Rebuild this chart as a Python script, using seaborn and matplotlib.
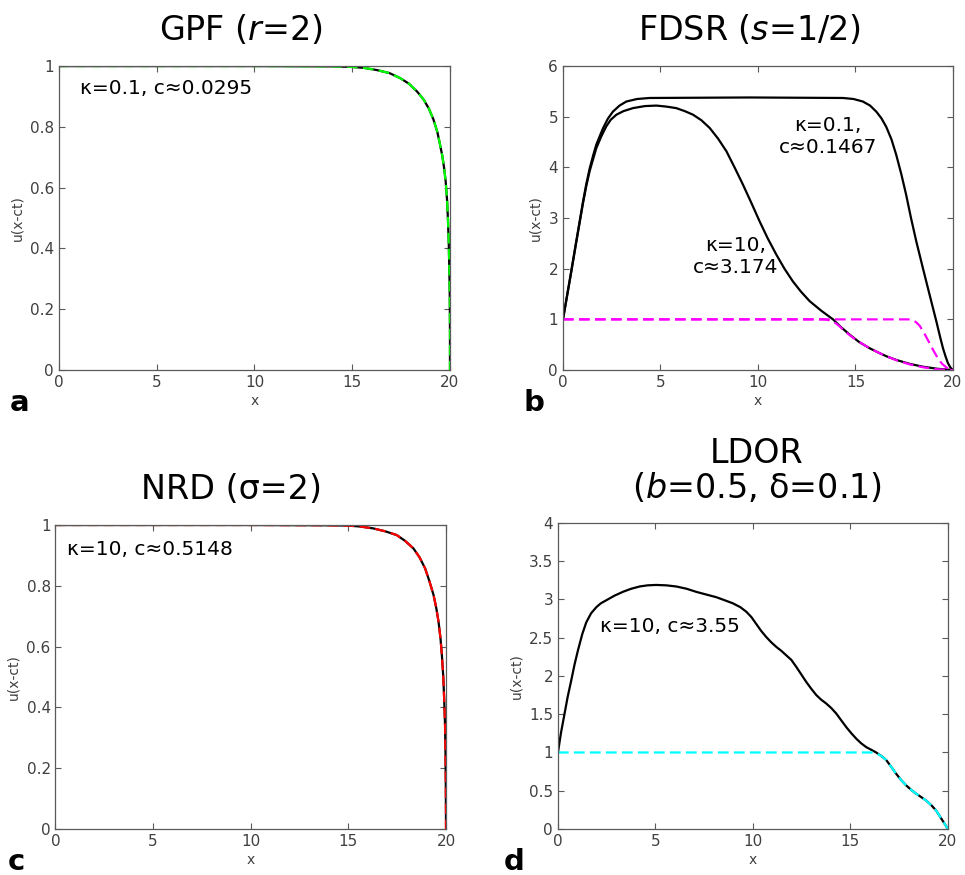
import matplotlib
matplotlib.use("Agg")
import matplotlib.pyplot as plt
from matplotlib import ticker
import seaborn as sns

# (a) GPF, r=2, kappa=0.1
gpf_x = [0, 5, 10, 14, 15, 15.6, 16.25, 16.9, 17.46, 17.9, 18.32, 18.65, 18.92, 19.15, 19.35,
         19.48, 19.6, 19.7, 19.78, 19.85, 19.9, 19.94, 19.97, 19.99, 20.0, 20.0]
gpf_u = [1, 1, 1, 0.999, 0.997, 0.994, 0.987, 0.977, 0.96, 0.942, 0.916, 0.89, 0.86, 0.825, 0.784,
         0.745, 0.707, 0.665, 0.62, 0.56, 0.49, 0.41, 0.32, 0.24, 0.12, 0]

# (b) FDSR, s=1/2
fdsr1_x = [0, 0.2, 0.4, 0.68, 1.03, 1.2, 1.37, 1.55, 1.71, 1.9, 2.05, 2.3, 2.56, 2.9, 3.25,
           3.8, 4.44, 9.57, 14.36, 14.9, 15.38, 15.75, 16.07, 16.33, 16.58, 16.85, 17.09,
           17.35, 17.6, 17.85, 18.12, 18.46, 18.8, 19.15, 19.35, 19.49, 19.62, 19.74, 19.87, 20]
fdsr1_u = [1, 1.45, 1.9, 2.54, 3.33, 3.68, 3.98, 4.24, 4.45, 4.63, 4.77, 4.96, 5.1, 5.22, 5.3,
           5.35, 5.37, 5.38, 5.37, 5.35, 5.3, 5.22, 5.1, 4.97, 4.8, 4.55, 4.25,
           3.87, 3.46, 3.0, 2.54, 2.01, 1.49, 0.96, 0.64, 0.43, 0.27, 0.14, 0.05, 0]
fdsr2_x = [0, 0.2, 0.4, 0.68, 1.03, 1.2, 1.37, 1.55, 1.71, 1.95, 2.22, 2.45, 2.74, 3.1, 3.59,
           4.2, 4.79, 5.3, 5.81, 6.25, 6.67, 7.1, 7.52, 7.95, 8.38, 8.8, 9.23, 9.66, 10.09,
           10.5, 10.94, 11.36, 11.79, 12.2, 12.65, 13.25, 13.85, 14.25, 14.7, 15.2, 15.73,
           16.2, 16.6, 17.09, 17.8, 18.46, 19.2, 20]
fdsr2_u = [1, 1.44, 1.88, 2.52, 3.3, 3.64, 3.93, 4.17, 4.38, 4.6, 4.81, 4.94, 5.04, 5.11, 5.17,
           5.21, 5.22, 5.2, 5.17, 5.11, 5.04, 4.93, 4.78, 4.57, 4.32, 4.0, 3.66, 3.3, 2.93,
           2.6, 2.28, 2.0, 1.75, 1.55, 1.36, 1.17, 1.0, 0.85, 0.70, 0.55, 0.43,
           0.34, 0.27, 0.20, 0.12, 0.066, 0.025, 0]
fdsr_cmp1_x = [0, 13.3, 13.5, 13.7, 13.85, 14.0, 14.2, 14.5, 14.87, 15.3, 15.73, 16.2, 16.6,
               17.09, 17.8, 18.46, 19.2, 20]
fdsr_cmp1_u = [1, 1, 0.995, 0.98, 0.955, 0.92, 0.86, 0.75, 0.64, 0.53, 0.43, 0.34, 0.27,
               0.195, 0.11, 0.055, 0.015, 0]
fdsr_cmp2_x = [0, 17.7, 17.85, 17.95, 18.05, 18.15, 18.3, 18.55, 18.8, 19.02, 19.23, 19.45,
               19.7, 20]
fdsr_cmp2_u = [1, 1, 0.995, 0.985, 0.96, 0.93, 0.87, 0.71, 0.53, 0.37, 0.23, 0.12, 0.04, 0]

# (c) NRD, sigma=2, kappa=10
nrd_x = [0, 5, 10, 14, 15, 15.6, 16.26, 16.9, 17.47, 17.9, 18.33, 18.65, 18.93, 19.15, 19.36,
         19.5, 19.62, 19.72, 19.79, 19.86, 19.91, 19.95, 19.97, 19.99, 20]
nrd_u = [1, 1, 1, 0.999, 0.998, 0.995, 0.989, 0.979, 0.967, 0.948, 0.923, 0.893, 0.857, 0.815,
         0.77, 0.727, 0.68, 0.625, 0.57, 0.5, 0.42, 0.34, 0.265, 0.13, 0]

# (d) LDOR, b=0.5, delta=0.1, kappa=10
ldor_x = [0, 0.15, 0.34, 0.5, 0.68, 0.85, 1.03, 1.25, 1.45, 1.7, 1.97, 2.2, 2.48, 2.9, 3.33,
          3.75, 4.19, 4.6, 5.04, 5.55, 6.07, 6.6, 7.09, 7.6, 8.12, 8.55, 8.97, 9.35, 9.66,
          9.92, 10.17, 10.42, 10.68, 10.94, 11.2, 11.45, 11.71, 11.97, 12.22, 12.48, 12.74,
          13.0, 13.25, 13.5, 13.76, 14.02, 14.27, 14.53, 14.79, 15.05, 15.3, 15.55, 15.81,
          16.07, 16.32, 16.58, 16.84, 17.1, 17.35, 17.6, 17.86, 18.12, 18.38, 18.64, 18.89,
          19.15, 19.4, 19.7, 20]
ldor_u = [1, 1.25, 1.51, 1.73, 1.94, 2.15, 2.34, 2.55, 2.7, 2.82, 2.9, 2.95, 2.99, 3.05, 3.1,
          3.14, 3.17, 3.185, 3.19, 3.185, 3.17, 3.14, 3.1, 3.065, 3.03, 2.99, 2.95, 2.9, 2.84,
          2.77, 2.68, 2.59, 2.51, 2.44, 2.38, 2.33, 2.27, 2.21, 2.12, 2.02, 1.92,
          1.83, 1.75, 1.69, 1.64, 1.58, 1.51, 1.42, 1.33, 1.25, 1.18, 1.12, 1.07,
          1.035, 1.0, 0.955, 0.9, 0.81, 0.72, 0.64, 0.57, 0.51, 0.46, 0.415, 0.37,
          0.31, 0.24, 0.12, 0]
ldor_cmp_x = [0, 16.1, 16.32, 16.58, 16.84, 17.1, 17.35, 17.6, 17.86, 18.12, 18.38, 18.64,
              18.89, 19.15, 19.4, 19.7, 20]
ldor_cmp_u = [1, 1, 0.99, 0.955, 0.9, 0.81, 0.72, 0.64, 0.57, 0.51, 0.46, 0.415,
              0.37, 0.31, 0.24, 0.12, 0]

sns.set_theme(style="white")
plt.rcParams["font.family"] = ["DejaVu Sans"]
plt.rcParams["mathtext.fontset"] = "dejavusans"

TICK_C = "#404040"
SPINE_C = "#5a5a5a"
DASH = (0, (4.8, 2.4))

fig = plt.figure(figsize=(9.65, 8.75), dpi=100)
ax_a = fig.add_axes([0.0611, 0.5771, 0.4052, 0.3474])
ax_b = fig.add_axes([0.5834, 0.5771, 0.4041, 0.3474])
ax_c = fig.add_axes([0.0575, 0.0526, 0.4047, 0.3474])
ax_d = fig.add_axes([0.5782, 0.0526, 0.4041, 0.3497])


def line(ax, x, y, color, dashed=False):
    kw = dict(linestyle=DASH) if dashed else {}
    sns.lineplot(x=x, y=y, ax=ax, color=color, linewidth=1.6, sort=False,
                 estimator=None, **kw)


def style(ax, ymax, ystep):
    ax.set_xlim(0, 20)
    ax.set_ylim(0, ymax)
    ax.set_xticks(range(0, 21, 5))
    n = int(round(ymax / ystep))
    ax.set_yticks([i * ystep for i in range(n + 1)])
    ax.yaxis.set_major_formatter(ticker.FormatStrFormatter("%g"))
    ax.tick_params(direction="in", length=4, width=0.8, colors=SPINE_C,
                   labelcolor=TICK_C, labelsize=11, top=True, right=True,
                   bottom=True, left=True)
    for s in ax.spines.values():
        s.set_visible(True)
        s.set_color(SPINE_C)
        s.set_linewidth(0.9)
    ax.set_xlabel("x", color=TICK_C, fontsize=10, labelpad=3)
    ax.set_ylabel("u(x-ct)", color=TICK_C, fontsize=10, labelpad=4)


def title(ax, xf, yf, txt):
    ax.text(xf, yf, txt, transform=ax.transAxes, fontsize=24, color="black",
            ha="center", va="center", linespacing=1.05)


def note(ax, x, y, txt, ha="left"):
    ax.text(x, y, txt, fontsize=14.5, color="black", va="center", ha=ha,
            linespacing=1.2)


# a
line(ax_a, gpf_x, gpf_u, "black")
line(ax_a, gpf_x, gpf_u, "#00ff00", dashed=True)
style(ax_a, 1, 0.2)
note(ax_a, 1.07, 0.925, "κ=0.1, c≈0.0295")
title(ax_a, 0.465, 1.118, "GPF ($r$=2)")

# b
line(ax_b, fdsr1_x, fdsr1_u, "black")
line(ax_b, fdsr2_x, fdsr2_u, "black")
line(ax_b, fdsr_cmp1_x, fdsr_cmp1_u, "#ff00ff", dashed=True)
line(ax_b, fdsr_cmp2_x, fdsr_cmp2_u, "#ff00ff", dashed=True)
style(ax_b, 6, 1)
note(ax_b, 13.6, 4.6, "κ=0.1,\nc≈0.1467", ha="center")
note(ax_b, 8.85, 2.24, "κ=10,\nc≈3.174", ha="center")
title(ax_b, 0.478, 1.118, "FDSR ($s$=1/2)")

# c
line(ax_c, nrd_x, nrd_u, "black")
line(ax_c, nrd_x, nrd_u, "#ff0000", dashed=True)
style(ax_c, 1, 0.2)
note(ax_c, 0.6, 0.92, "κ=10, c≈0.5148")
title(ax_c, 0.45, 1.118, "NRD (σ=2)")

# d
line(ax_d, ldor_x, ldor_u, "black")
line(ax_d, ldor_cmp_x, ldor_cmp_u, "#00ffff", dashed=True)
style(ax_d, 4, 0.5)
note(ax_d, 2.15, 2.65, "κ=10, c≈3.55")
title(ax_d, 0.51, 1.17, "LDOR\n($b$=0.5, δ=0.1)")

# panel letters
for lbl, px, py in [("a", 20, 403), ("b", 534, 403), ("c", 16, 862), ("d", 514, 862)]:
    fig.text(px / 965, 1 - py / 875, lbl, fontsize=21, fontweight="bold",
             color="black", ha="center", va="center")

fig.savefig("out.png", dpi=100)
